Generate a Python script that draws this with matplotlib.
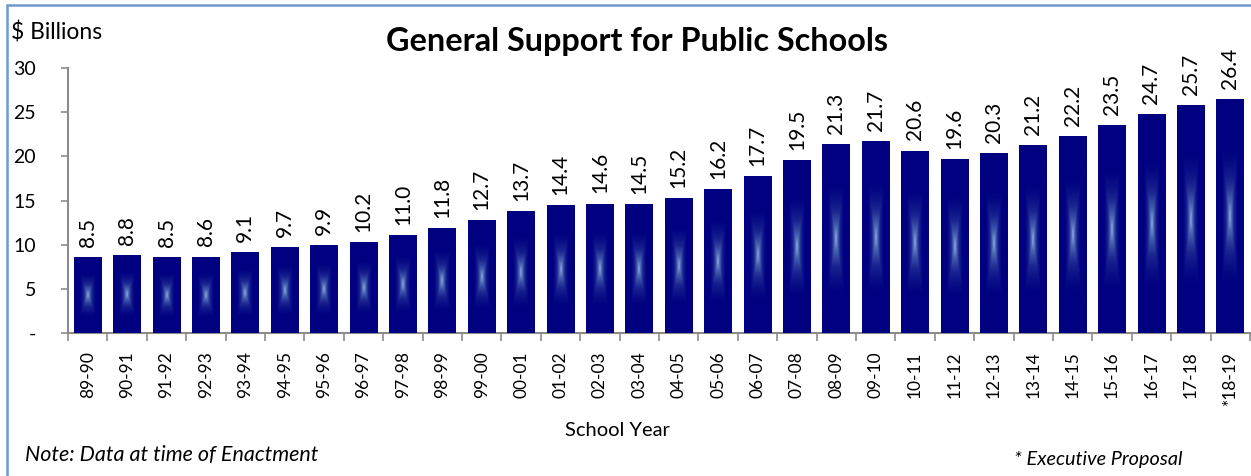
import numpy as np
import matplotlib
matplotlib.use("Agg")
import matplotlib.pyplot as plt
from matplotlib.colors import LinearSegmentedColormap
from matplotlib.patches import Rectangle

years = ["89-90", "90-91", "91-92", "92-93", "93-94", "94-95", "95-96", "96-97",
         "97-98", "98-99", "99-00", "00-01", "01-02", "02-03", "03-04", "04-05",
         "05-06", "06-07", "07-08", "08-09", "09-10", "10-11", "11-12", "12-13",
         "13-14", "14-15", "15-16", "16-17", "17-18", "*18-19"]
values = [8.5, 8.8, 8.5, 8.6, 9.1, 9.7, 9.9, 10.2, 11.0, 11.8, 12.7, 13.7, 14.4,
          14.6, 14.5, 15.2, 16.2, 17.7, 19.5, 21.3, 21.7, 20.6, 19.6, 20.3, 21.2,
          22.2, 23.5, 24.7, 25.7, 26.4]
yticks = [0, 5, 10, 15, 20, 25, 30]
ytick_labels = ["-", "5", "10", "15", "20", "25", "30"]

plt.rcParams['font.family'] = ['Lato', 'DejaVu Sans']

W, H = 1251, 476
fig = plt.figure(figsize=(W / 100, H / 100), dpi=100)
ax = fig.add_axes([68 / W, 1 - 333 / H, (1250 - 68) / W, (333 - 68) / H])

navy = "#000080"
cmap = LinearSegmentedColormap.from_list("g", [navy, "#1a2490", "#4560b0", "#94ace0"])

# gradient texture
ny, nx = 120, 40
yy, xx = np.mgrid[0:ny, 0:nx]
u = np.abs((xx + 0.5) / nx - 0.5) / 0.5
v = np.abs((yy + 0.5) / ny - 0.5) / 0.5
t = np.maximum(u, v)
grad = np.clip(1 - t / 0.62, 0, 1) ** 1.7

bw = 0.71
x = np.arange(len(values))
bars = ax.bar(x, values, width=bw, color=navy, zorder=2)
for xi, val in zip(x, values):
    ax.imshow(grad, cmap=cmap, vmin=0, vmax=1, extent=(xi - bw / 2, xi + bw / 2, 0, val),
              aspect='auto', interpolation='bilinear', zorder=3)
    ax.text(xi, val + 1.2, f"{val:.1f}", rotation=90, ha='center', va='bottom',
            fontsize=15, color='black', zorder=4)

ax.set_xlim(-0.5, len(values) - 0.5)
ax.set_ylim(0, 30)
ax.set_aspect('auto')

for s in ['top', 'right']:
    ax.spines[s].set_visible(False)
for s in ['left', 'bottom']:
    ax.spines[s].set_color('#8c8c8c')
    ax.spines[s].set_linewidth(1.5)

ax.set_yticks(yticks)
ax.set_yticklabels(ytick_labels, fontsize=14)
ax.tick_params(axis='y', length=5, width=1.2, color='#8c8c8c', pad=18)

ax.set_xticks(x)
ax.set_xticklabels(years, rotation=90, fontsize=12.5, va='top', ha='center')
ax.tick_params(axis='x', length=0, pad=13)
ax.set_xticks(np.arange(-0.5, len(values), 1), minor=True)
ax.tick_params(axis='x', which='minor', length=6, width=1.2, color='#8c8c8c')

fig.text(11 / W, 1 - 33 / H, "$ Billions", fontsize=16.5, ha='left', va='center')
fig.text(637 / W, 1 - 42 / H, "General Support for Public Schools", fontsize=23.3,
         fontweight='bold', ha='center', va='center')
fig.text(617 / W, 1 - 430 / H, "School Year", fontsize=14.5, ha='center', va='center')
fig.text(25 / W, 1 - 455 / H, "Note: Data at time of Enactment", fontsize=15.5,
         style='italic', ha='left', va='center')
fig.text(1182 / W, 1 - 460 / H, "* Executive Proposal", fontsize=14.3,
         style='italic', ha='right', va='center')

fig.patches.append(Rectangle((7 / W, -0.02), 1.1, 1 - 5 / H + 0.02, transform=fig.transFigure,
                             fill=False, edgecolor='#6f98cf', linewidth=1.8, zorder=0))

fig.savefig("out.png", dpi=100)
